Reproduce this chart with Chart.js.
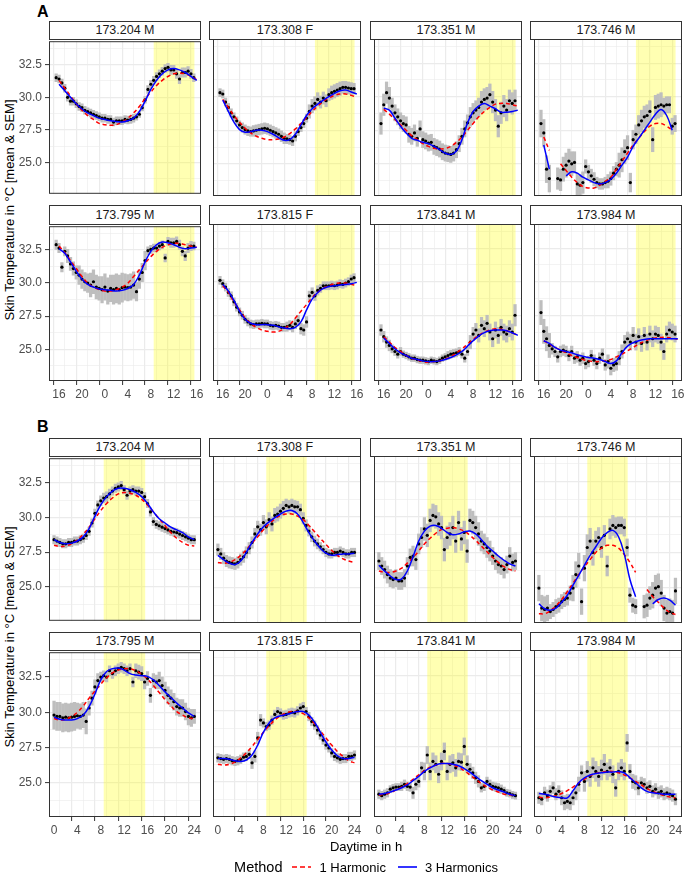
<!DOCTYPE html>
<html>
<head>
<meta charset="utf-8">
<script src="https://cdn.jsdelivr.net/npm/chart.js@4.4.0/dist/chart.umd.min.js"></script>
<style>
  body { margin: 0; background: #fff; font-family: "Liberation Sans", Arial, sans-serif; }
  #fig { position: relative; width: 685px; height: 880px; overflow: hidden; background: #fff; }
  #fig canvas { position: absolute; }
  .strip { position: absolute; box-sizing: border-box; border: 1px solid #333; background: #fff;
           font-size: 12.5px; text-align: center; color: #1a1a1a; }
  .tag { position: absolute; font-weight: bold; font-size: 16px; color: #000; }
  .ytitle { position: absolute; width: 340px; height: 16px; line-height: 16px; text-align: center;
            font-size: 13px; color: #000; transform: rotate(-90deg); }
  .xtitle { position: absolute; left: 0; width: 732px; text-align: center; font-size: 13px; color: #000; }
  .legend { position: absolute; top: 859px; left: 0; width: 732px; display: flex; justify-content: center;
            align-items: center; font-size: 13px; color: #000; }
  .legend .ttl { font-size: 14.5px; margin-right: 8px; }
  .legend svg { margin: 0 8px 0 2px; }
</style>
</head>
<body>
<div id="fig"></div>
<script>
// time grids: A runs 16h -> 16h next day, B runs 0 -> 24h
const hoursA = Array.from({length: 49}, (_, i) => 15.5 + i / 2);
const hoursB = Array.from({length: 49}, (_, i) => i / 2);
const fitHoursA = Array.from({length: 25}, (_, i) => 16 + i);
const fitHoursB = Array.from({length: 25}, (_, i) => i);
const LIGHT = [8.5, 15.6];

const animals = ['173.204 M', '173.308 F', '173.351 M', '173.746 M', '173.795 M', '173.815 F', '173.841 M', '173.984 M'];

// ---- A: means (15.5 .. 39.5 h)
const meanA_204 = [31.5,31.4,31.1,30.7,30.0,29.7,29.7,29.5, 29.3,29.2,29.0,28.9,28.8,28.7,28.6,28.5,
  28.4,28.4,28.3,28.3,28.1,28.2,28.2,28.2, 28.3,28.25,28.3,28.4,28.5,28.7,29.2,29.8,
  30.6,31.0,31.3,31.6,31.8,32.0,32.2,32.3, 32.1,32.1,31.8,31.4,31.9,31.9,32.0,31.8, 31.5];
const meanA_308 = [30.3,30.2,29.6,29.2,28.8,28.5,28.2,27.9, 27.7,27.55,27.45,27.4,27.45,27.5,27.55,27.6,
  27.65,27.6,27.5,27.4,27.3,27.2,27.05,26.9, 26.85,26.8,26.7,27.05,27.4,27.7,28.0,28.4,
  28.9,29.3,29.5,29.8,29.6,29.9,29.7,30.15, 30.3,30.4,30.5,30.6,30.7,30.7,30.65,30.6, 30.6];
const meanA_351 = [28.0,29.4,30.3,29.9,29.3,28.8,28.5,28.2, 28.0,27.9,27.2,27.05,27.3,26.9,27.6,26.8,
  26.7,26.55,26.6,26.3,26.2,26.1,25.9,25.8, 25.75,25.7,25.8,26.05,26.5,27.05,27.6,28.05,
  28.5,28.8,29.0,29.2,29.6,29.8,29.9,30.15, 29.6,29.0,27.8,28.8,29.3,29.0,29.7,29.5, 29.7];
const meanA_746 = [28.0,27.3,24.6,23.9,null,null,23.9,23.8, 24.6,24.9,25.2,25.0,25.1,23.5,23.4,23.6,
  24.8,24.4,24.1,23.85,23.6,23.5,23.5,23.6, 23.7,23.9,24.3,24.6,24.9,25.3,25.9,26.2,
  23.6,26.8,27.2,27.9,28.2,28.5,28.6,28.9, 26.8,29.2,29.3,29.4,29.3,29.4,29.4,27.8, 28.0];
const meanA_795 = [32.9,32.65,31.2,32.4,32.05,31.45,31.1,30.8, 30.6,30.3,30.1,30.0,29.85,30.1,29.7,29.6,
  29.5,29.7,29.4,29.6,29.5,29.6,29.5,29.65, 29.7,29.65,29.7,29.85,29.35,30.3,30.8,31.7,
  32.45,32.55,32.65,32.65,32.8,32.9,31.9,33.15, 33.05,33.05,33.15,32.9,32.4,32.05,32.65,32.8, 32.8];
const meanA_815 = [30.1,29.85,29.6,29.2,28.95,28.5,28.1,27.75, 27.5,27.2,27.0,26.85,26.8,26.85,26.85,26.9,
  26.85,26.85,26.75,26.7,26.75,26.7,26.6,26.6, 26.65,26.75,26.6,26.85,27.1,26.5,26.4,27.0,
  28.95,29.2,28.95,29.35,29.5,29.7,29.7,29.7, 29.75,29.7,29.75,29.85,29.8,29.9,30.0,30.2, 30.3];
const meanA_841 = [26.4,25.9,25.5,25.25,25.0,24.8,24.6,24.8, 24.6,24.5,24.4,24.3,24.3,24.2,24.15,24.15,
  24.1,24.05,24.15,24.1,24.05,24.15,24.3,24.4, 24.5,24.6,24.65,24.7,24.8,24.6,24.3,24.8,
  25.5,26.1,26.4,26.0,26.75,26.5,26.9,26.25, 25.75,26.4,26.0,26.6,26.25,26.1,26.5,26.25, 27.5];
const meanA_984 = [27.7,26.3,25.75,25.25,25.0,24.8,24.4,24.8, 24.9,24.8,24.5,24.8,24.3,24.4,24.15,24.3,
  23.9,24.05,24.5,24.15,23.9,24.3,24.6,23.8, 24.05,23.55,23.8,23.9,24.3,24.8,25.5,25.75,
  25.5,26.0,25.5,25.9,25.4,26.0,25.5,26.1, 25.75,26.1,26.0,25.5,24.8,26.1,26.4,26.25, 26.1];

// ---- B: means (0 .. 24 h)
const meanB_204 = [28.4,28.3,28.2,28.1,28.1,28.2,28.2,28.3, 28.3,28.4,28.5,28.7,29.0,29.6,30.3,30.9,
  31.2,31.4,31.5,31.7,31.9,32.1,32.2,32.3, 32.0,31.6,31.9,32.0,31.9,31.9,31.8,31.5,
  31.0,30.4,29.7,29.5,29.4,29.3,29.2,29.1, 29.0,28.95,28.9,28.8,28.7,28.6,28.5,28.4, 28.4];
const meanB_308 = [27.7,27.4,27.1,26.9,26.8,26.75,26.7,26.8, 27.0,27.2,27.5,27.8,28.2,28.8,29.3,29.1,
  29.6,29.3,29.8,29.5,30.1,30.2,30.4,30.6, 30.8,30.7,30.8,30.7,30.7,30.5,29.9,29.4,
  29.0,28.6,28.3,28.1,27.9,27.7,27.5,27.4, 27.4,27.5,27.5,27.6,27.5,27.4,27.4,27.5, 27.5];
const meanB_351 = [26.9,26.55,26.3,25.95,25.7,25.6,25.7,25.5, 25.5,25.7,26.55,27.15,27.25,27.0,28.1,28.55,
  29.15,28.7,29.75,30.1,30.0,29.5,29.25,27.7, 28.55,28.8,29.25,28.3,29.6,28.45,28.9,27.6,
  29.75,29.6,29.25,28.8,28.3,28.1,27.85,27.6, 27.25,26.9,26.65,26.55,26.3,26.65,27.25,26.8, 26.9];
const meanB_746 = [25.0,23.6,23.5,23.6,23.35,23.5,23.7,23.8, 24.05,24.2,24.3,24.65,25.0,25.95,26.55,24.05,
  26.4,27.85,28.3,27.5,28.3,28.55,27.85,28.7, 26.55,29.15,29.4,29.25,29.4,29.4,29.25,27.85,
  24.5,23.8,23.7,null,null,23.7,23.8,24.3, 24.5,25.0,25.1,24.65,23.6,23.25,23.35,23.25, 24.8];
const meanB_795 = [29.8,29.7,29.7,29.6,29.65,29.6,29.65,29.7, 29.75,29.7,29.8,29.35,30.3,31.0,31.8,32.25,
  32.5,32.6,32.5,32.95,32.75,32.95,33.1,33.2, 33.1,32.95,33.1,32.15,32.95,32.85,32.75,32.15,
  32.4,31.2,32.25,32.15,32.25,31.9,31.55,31.2, 31.0,30.75,30.4,30.3,30.3,30.05,29.7,29.6, 29.7];
const meanB_815 = [26.7,26.65,26.6,26.65,26.6,26.5,26.45,26.5, 26.6,26.75,26.8,26.95,26.35,26.8,28.1,29.35,
  29.15,28.9,29.0,29.35,29.75,29.95,29.85,29.7, 29.75,29.85,29.9,29.85,30.0,30.2,30.3,29.95,
  29.6,29.25,29.0,28.65,28.3,27.95,27.6,27.4, 27.05,26.8,26.7,26.6,26.65,26.65,26.8,26.8, 26.9];
const meanB_841 = [24.15,24.05,24.15,24.25,24.5,24.6,24.65,24.65, 24.7,24.85,24.7,24.65,24.25,24.85,25.05,26.0,
  25.75,26.9,25.75,26.45,26.25,25.55,26.45,27.15, 25.75,26.25,26.35,26.0,26.45,26.4,27.5,26.25,
  25.9,25.65,25.3,25.05,24.6,24.7,25.05,24.85, 24.7,24.65,24.6,24.5,24.4,24.25,24.2,24.1, 24.05];
const meanB_984 = [23.9,23.8,24.25,24.05,24.35,24.6,24.15,24.35, 23.9,23.55,23.65,23.55,23.9,24.25,24.85,25.65,
  25.05,25.75,25.4,26.0,25.75,25.4,25.85,26.25, 25.75,26.0,25.55,24.6,25.75,26.0,25.75,27.75,
  25.75,25.05,24.95,24.6,24.95,24.85,24.6,24.7, 24.35,24.5,24.25,24.35,24.15,24.25,24.15,24.05, 23.8];

// ---- SEM, one value per 2 h block of each panel
const semA_204 = [0.3,0.3,0.3,0.3,0.3,0.3,0.3,0.25,0.3,0.3,0.35,0.35,0.3];
const semA_308 = [0.3,0.3,0.35,0.4,0.4,0.4,0.35,0.3,0.5,0.45,0.5,0.45,0.4];
const semA_351 = [0.8,0.6,0.6,0.6,0.6,0.6,0.6,0.6,0.7,0.8,0.8,0.8,0.8];
const semA_746 = [1.0,0.8,0.9,0.8,0.5,0.4,0.5,0.9,0.7,0.8,0.9,0.6,0.6];
const semA_795 = [0.35,0.5,0.7,0.9,1.0,1.1,1.0,0.7,0.3,0.3,0.35,0.35,0.3];
const semA_815 = [0.3,0.3,0.3,0.3,0.3,0.3,0.35,0.4,0.35,0.3,0.3,0.3,0.3];
const semA_841 = [0.4,0.3,0.25,0.25,0.25,0.25,0.3,0.3,0.5,0.6,0.6,0.6,0.8];
const semA_984 = [0.9,0.4,0.4,0.4,0.4,0.4,0.5,0.5,0.6,0.6,0.6,0.6,0.6];
const semB_204 = [0.3,0.3,0.3,0.3,0.35,0.3,0.3,0.3,0.3,0.3,0.3,0.3,0.3];
const semB_308 = [0.4,0.4,0.4,0.4,0.5,0.5,0.45,0.4,0.35,0.3,0.3,0.3,0.3];
const semB_351 = [0.6,0.6,0.6,0.7,0.8,0.8,0.8,0.8,0.8,0.7,0.6,0.6,0.6];
const semB_746 = [0.9,0.5,0.5,0.9,0.9,0.7,0.7,0.6,0.5,0.8,0.9,0.9,0.9];
const semB_795 = [1.0,1.0,0.9,0.5,0.35,0.35,0.35,0.5,0.5,0.6,0.6,0.6,0.5];
const semB_815 = [0.3,0.3,0.3,0.4,0.3,0.3,0.3,0.3,0.3,0.3,0.3,0.3,0.3];
const semB_841 = [0.3,0.25,0.3,0.4,0.6,0.6,0.6,0.6,0.4,0.3,0.3,0.25,0.25];
const semB_984 = [0.4,0.4,0.5,0.5,0.7,0.7,0.6,0.6,0.5,0.4,0.4,0.4,0.4];

// ---- fits, hourly (A: 16..40, B: 0..24)
const blueA_204 = [31.0,30.5,30.0,29.5,29.1,28.8,28.6,28.4,28.3,28.2,28.15,28.1,28.2,28.4,28.9,29.7,30.6,31.3,31.8,32.1,32.2,32.1,31.9,31.6,31.3];
const redA_204  = [31.3,30.7,30.1,29.5,29.0,28.6,28.3,28.0,27.9,27.85,27.9,28.1,28.4,28.8,29.3,29.9,30.4,30.9,31.3,31.6,31.8,31.85,31.8,31.6,31.35];
const blueA_308 = [29.75,28.9,28.1,27.55,27.35,27.4,27.5,27.5,27.4,27.2,26.95,26.75,26.8,27.2,27.9,28.6,29.1,29.45,29.75,30.0,30.25,30.45,30.5,30.35,30.2];
const redA_308  = [29.8,29.2,28.6,28.1,27.65,27.3,27.05,26.9,26.8,26.8,26.85,27.0,27.25,27.6,28.0,28.45,28.9,29.3,29.65,29.9,30.1,30.2,30.2,30.1,29.95];
const blueA_351 = [29.15,29.0,28.4,27.8,27.3,26.9,26.75,26.6,26.5,26.3,26.05,25.8,25.7,25.95,26.8,28.05,28.9,29.3,29.5,29.3,29.1,28.85,28.85,28.9,29.0];
const redA_351  = [29.05,28.7,28.3,27.9,27.5,27.1,26.8,26.5,26.3,26.15,26.1,26.15,26.3,26.6,27.0,27.5,28.0,28.5,28.9,29.2,29.45,29.5,29.5,29.4,29.3];
const blueA_746 = [26.4,24.6,null,null,24.1,24.4,24.3,24.0,23.8,23.6,23.5,23.6,23.85,24.3,24.9,25.5,26.3,26.9,27.5,28.1,28.7,29.05,28.6,27.5,null];
const redA_746  = [27.0,26.0,null,25.0,24.5,24.0,23.6,23.3,23.2,23.2,23.4,23.7,24.0,24.6,25.2,25.8,26.4,26.9,27.4,27.8,28.0,28.0,27.8,27.5,null];
const blueA_795 = [32.6,32.25,31.6,30.9,30.3,29.9,29.7,29.55,29.5,29.45,29.4,29.45,29.6,29.9,30.6,31.6,32.4,32.9,33.1,33.05,32.9,32.7,32.6,32.65,32.7];
const redA_795  = [32.8,32.3,31.7,31.1,30.5,30.0,29.7,29.5,29.4,29.4,29.5,29.7,30.0,30.5,31.0,31.5,32.0,32.4,32.7,32.9,33.0,33.0,32.9,32.8,32.7];
const blueA_815 = [29.8,29.3,28.6,27.8,27.2,26.9,26.8,26.8,26.8,26.75,26.65,26.55,26.5,26.6,27.0,27.9,28.7,29.2,29.5,29.65,29.7,29.75,29.8,29.85,29.95];
const redA_815  = [29.7,29.2,28.5,27.9,27.3,26.9,26.6,26.4,26.3,26.25,26.3,26.5,26.8,27.3,27.8,28.3,28.8,29.2,29.5,29.7,29.85,29.9,29.9,29.8,29.7];
const blueA_841 = [25.8,25.4,25.0,24.7,24.5,24.3,24.2,24.1,24.05,24.05,24.1,24.2,24.35,24.55,24.8,25.2,25.6,25.95,26.2,26.35,26.4,26.4,26.35,26.2,26.0];
const redA_841  = [25.9,25.5,25.1,24.8,24.5,24.3,24.15,24.05,24.0,24.05,24.1,24.25,24.4,24.7,25.0,25.35,25.7,26.0,26.25,26.4,26.5,26.45,26.35,26.2,26.0];
const blueA_984 = [25.6,25.4,25.1,24.9,24.8,24.7,24.55,24.45,24.35,24.3,24.2,24.05,23.9,24.1,24.7,25.2,25.45,25.6,25.7,25.75,25.75,25.75,25.75,25.75,25.75];
const redA_984  = [25.6,25.35,25.1,24.9,24.7,24.5,24.35,24.2,24.1,24.05,24.05,24.1,24.2,24.4,24.6,24.85,25.1,25.35,25.55,25.7,25.8,25.85,25.85,25.8,25.7];

const blueB_204 = [28.4,28.2,28.1,28.15,28.3,28.6,29.2,30.1,30.9,31.5,31.9,32.1,32.1,32.0,31.8,31.5,31.0,30.4,29.9,29.6,29.3,29.1,28.9,28.6,28.4];
const redB_204  = [28.0,27.9,27.95,28.1,28.4,28.8,29.3,29.9,30.5,31.0,31.4,31.7,31.8,31.75,31.6,31.3,30.9,30.4,29.9,29.4,28.9,28.5,28.2,28.0,27.95];
const blueB_308 = [27.3,27.0,26.75,26.65,26.9,27.5,28.2,28.8,29.3,29.65,29.95,30.2,30.4,30.45,30.2,29.6,28.9,28.3,27.8,27.45,27.3,27.35,27.4,27.4,27.45];
const redB_308  = [26.8,26.75,26.8,27.0,27.3,27.7,28.15,28.6,29.1,29.5,29.85,30.1,30.2,30.2,30.05,29.8,29.4,28.95,28.5,28.05,27.65,27.3,27.05,26.9,26.8];
const blueB_351 = [26.6,26.2,25.85,25.6,25.65,26.2,27.2,28.3,29.0,29.35,29.4,29.2,28.9,28.75,28.8,28.95,29.0,28.8,28.4,27.95,27.6,27.25,26.95,26.7,26.55];
const redB_351  = [26.2,26.1,26.1,26.2,26.4,26.75,27.15,27.6,28.1,28.5,28.85,29.1,29.2,29.25,29.15,29.0,28.7,28.35,27.95,27.55,27.15,26.8,26.5,26.3,26.2];
const blueB_746 = [23.9,23.55,23.45,23.6,24.0,24.5,25.2,25.9,26.6,27.3,27.9,28.5,28.9,29.05,28.6,27.4,25.6,24.4,null,null,23.9,24.2,24.3,24.15,23.8];
const redB_746  = [23.2,23.2,23.4,23.75,24.2,24.75,25.35,25.95,26.5,27.0,27.5,27.8,28.0,28.0,27.8,27.35,26.8,26.1,null,24.9,24.4,24.0,23.6,23.3,23.15];
const blueB_795 = [29.65,29.5,29.45,29.45,29.55,29.8,30.4,31.3,32.3,32.9,33.1,33.15,33.0,32.75,32.65,32.6,32.55,32.3,31.9,31.45,31.05,30.65,30.3,29.95,29.7];
const redB_795  = [29.55,29.45,29.5,29.7,30.0,30.45,31.0,31.5,32.0,32.45,32.8,33.0,33.1,33.1,32.95,32.7,32.35,31.9,31.4,30.9,30.45,30.05,29.8,29.6,29.55];
const blueB_815 = [26.65,26.65,26.6,26.5,26.45,26.55,26.9,27.6,28.5,29.15,29.5,29.65,29.75,29.85,29.95,29.95,29.7,29.2,28.5,27.8,27.25,26.85,26.65,26.65,26.75];
const redB_815  = [26.25,26.2,26.25,26.4,26.7,27.05,27.5,28.0,28.5,28.95,29.35,29.65,29.85,29.95,29.95,29.8,29.5,29.1,28.6,28.1,27.6,27.15,26.8,26.5,26.35];
const blueB_841 = [24.15,24.2,24.3,24.45,24.6,24.8,25.1,25.4,25.75,26.0,26.2,26.3,26.3,26.25,26.15,25.95,25.7,25.4,25.1,24.85,24.6,24.45,24.3,24.15,24.05];
const redB_841  = [24.1,24.15,24.25,24.45,24.65,24.9,25.2,25.5,25.8,26.05,26.2,26.3,26.3,26.2,26.05,25.8,25.5,25.2,24.9,24.65,24.45,24.3,24.15,24.1,24.1];
const blueB_984 = [24.2,24.15,24.05,23.95,23.9,23.9,24.4,24.95,25.3,25.5,25.6,25.65,25.7,25.7,25.75,25.65,25.3,24.95,24.6,24.35,24.25,24.2,24.15,24.15,24.15];
const redB_984  = [23.95,23.9,23.95,24.05,24.2,24.4,24.65,24.95,25.2,25.45,25.6,25.7,25.75,25.75,25.65,25.5,25.3,25.05,24.8,24.55,24.35,24.2,24.05,23.95,23.9];

const sections = [
  {
    tag: 'A', tagTop: 3,
    hours: hoursA, fitHours: fitHoursA, shift: 24,
    means: [meanA_204, meanA_308, meanA_351, meanA_746, meanA_795, meanA_815, meanA_841, meanA_984],
    sems: [semA_204, semA_308, semA_351, semA_746, semA_795, semA_815, semA_841, semA_984],
    blues: [blueA_204, blueA_308, blueA_351, blueA_746, blueA_795, blueA_815, blueA_841, blueA_984],
    reds: [redA_204, redA_308, redA_351, redA_746, redA_795, redA_815, redA_841, redA_984],
    xMin: 14.25, xMax: 40.75, yMin: 22.6, yMax: 34.3,
    xLabel: v => String(v % 24),
    rows: [{strip: 21, top: 39, h: 157}, {strip: 205, top: 224, h: 157}]
  },
  {
    tag: 'B', tagTop: 418,
    hours: hoursB, fitHours: fitHoursB, shift: 0,
    means: [meanB_204, meanB_308, meanB_351, meanB_746, meanB_795, meanB_815, meanB_841, meanB_984],
    sems: [semB_204, semB_308, semB_351, semB_746, semB_795, semB_815, semB_841, semB_984],
    blues: [blueB_204, blueB_308, blueB_351, blueB_746, blueB_795, blueB_815, blueB_841, blueB_984],
    reds: [redB_204, redB_308, redB_351, redB_746, redB_795, redB_815, redB_841, redB_984],
    xMin: -0.86, xMax: 25.15, yMin: 22.55, yMax: 34.27,
    xLabel: v => String(v),
    rows: [{strip: 438, top: 456, h: 167}, {strip: 632, top: 650, h: 167}]
  }
];

const COLS = [49, 209, 370, 530];
const PW = 152;
const PAD = 8;
const fig = document.getElementById('fig');

function addDiv(cls, css, html) {
  const d = document.createElement('div');
  d.className = cls;
  Object.assign(d.style, css);
  d.innerHTML = html;
  fig.appendChild(d);
  return d;
}

const isMajorY = v => Math.abs(v / 2.5 - Math.round(v / 2.5)) < 1e-6;
const isMajorX = v => Math.abs(v / 4 - Math.round(v / 4)) < 1e-6;
const tickVal = c => (c && c.tick) ? c.tick.value : NaN;

// yellow light phase + panel frame
const panelDeco = {
  id: 'panelDeco',
  beforeDatasetsDraw(chart, args, opts) {
    const {ctx, chartArea: a, scales: {x}} = chart;
    const x0 = x.getPixelForValue(opts.light[0]);
    const x1 = x.getPixelForValue(opts.light[1]);
    ctx.save();
    ctx.fillStyle = 'rgba(255,255,0,0.3)';
    ctx.fillRect(x0, a.top, x1 - x0, a.bottom - a.top);
    ctx.restore();
  },
  afterDraw(chart) {
    const {ctx, chartArea: a} = chart;
    ctx.save();
    ctx.strokeStyle = '#333333';
    ctx.lineWidth = 1;
    ctx.strokeRect(a.left + 0.5, a.top + 0.5, a.right - a.left - 1, a.bottom - a.top - 1);
    ctx.restore();
  }
};

function makePanel(sec, k) {
  const row = sec.rows[Math.floor(k / 4)];
  const col = k % 4;
  const showY = col === 0;
  const showX = k >= 4;
  const padL = showY ? 46 : 0;
  const padB = showX ? 24 : 0;

  addDiv('strip', {left: COLS[col] + 'px', top: row.strip + 'px', width: PW + 'px',
    height: (row.top - row.strip + 1) + 'px', lineHeight: (row.top - row.strip - 1) + 'px'}, animals[k]);

  const cv = document.createElement('canvas');
  cv.width = padL + PW + 10;
  cv.height = PAD + row.h + padB + PAD;
  cv.style.left = (COLS[col] - padL) + 'px';
  cv.style.top = (row.top - PAD) + 'px';
  fig.appendChild(cv);

  const mean = sec.means[k], sem = sec.sems[k];
  const pts = [], bars = [];
  sec.hours.forEach((h, i) => {
    if (mean[i] == null) return;
    const s = sem[Math.floor(i / 4)];
    pts.push({x: h, y: mean[i]});
    bars.push({x: h, y: [mean[i] - s, mean[i] + s]});
  });
  const blue = sec.fitHours.map((h, i) => ({x: h, y: sec.blues[k][i]}));
  const red = sec.fitHours.map((h, i) => ({x: h, y: sec.reds[k][i]}));

  new Chart(cv, {
    type: 'line',
    data: {
      datasets: [
        {label: '3 Harmonics', data: blue, borderColor: '#0000FF', borderWidth: 1.5,
         pointRadius: 0, tension: 0.4, order: 0},
        {label: '1 Harmonic', data: red, borderColor: '#FF0000', borderWidth: 1.5, borderDash: [4, 3],
         pointRadius: 0, tension: 0.4, order: 1},
        {label: 'mean', data: pts, showLine: false, pointRadius: 1.6, pointBackgroundColor: '#000',
         pointBorderWidth: 0, order: 2},
        {type: 'bar', label: 'SEM', data: bars, backgroundColor: '#BEBEBE', barThickness: 2.6,
         borderWidth: 0, order: 3}
      ]
    },
    options: {
      responsive: false,
      animation: false,
      devicePixelRatio: 1,
      events: [],
      layout: {padding: {top: PAD, right: 10, left: 0, bottom: PAD}},
      plugins: {legend: {display: false}, tooltip: {enabled: false},
                panelDeco: {light: [LIGHT[0] + sec.shift, LIGHT[1] + sec.shift]}},
      scales: {
        x: {
          type: 'linear', min: sec.xMin, max: sec.xMax, offset: false,
          afterFit: s => { s.height = padB; },
          border: {display: false},
          grid: {color: '#EBEBEB', lineWidth: c => isMajorX(tickVal(c)) ? 1.2 : 0.6,
                 drawTicks: showX, tickLength: 4, tickWidth: 1,
                 tickColor: c => isMajorX(tickVal(c)) ? '#333333' : 'rgba(0,0,0,0)'},
          ticks: {display: showX, stepSize: 2, autoSkip: false, maxRotation: 0, includeBounds: false,
                  padding: 2, color: '#4D4D4D', font: {size: 12},
                  callback: v => isMajorX(v) ? sec.xLabel(v) : ''}
        },
        y: {
          type: 'linear', min: sec.yMin, max: sec.yMax,
          afterFit: s => { s.width = padL; },
          border: {display: false},
          grid: {color: '#EBEBEB', lineWidth: c => isMajorY(tickVal(c)) ? 1.2 : 0.6,
                 drawTicks: showY, tickLength: 4, tickWidth: 1,
                 tickColor: c => isMajorY(tickVal(c)) ? '#333333' : 'rgba(0,0,0,0)'},
          ticks: {display: showY, stepSize: 1.25, autoSkip: false, includeBounds: false,
                  padding: 3, color: '#4D4D4D', font: {size: 12},
                  callback: v => isMajorY(v) ? v.toFixed(1) : ''}
        }
      }
    },
    plugins: [panelDeco]
  });
}

Chart.defaults.font.family = '"Liberation Sans", Arial, sans-serif';

sections.forEach(sec => {
  addDiv('tag', {left: '37px', top: sec.tagTop + 'px'}, sec.tag);
  const r0 = sec.rows[0], r1 = sec.rows[1];
  const cy = (r0.top + r1.top + r1.h) / 2;
  addDiv('ytitle', {left: (10 - 170) + 'px', top: (cy - 8) + 'px'}, 'Skin Temperature in °C [mean &amp; SEM]');
  for (let k = 0; k < 8; k++) makePanel(sec, k);
});

addDiv('xtitle', {top: '839px'}, 'Daytime in h');
addDiv('legend', {},
  '<span class="ttl">Method</span>' +
  '<svg width="19" height="10"><line x1="0" y1="5" x2="19" y2="5" stroke="#FF0000" stroke-width="1.6" stroke-dasharray="5,3"/></svg>' +
  '<span style="margin-right:10px">1 Harmonic</span>' +
  '<svg width="19" height="10"><line x1="0" y1="5" x2="19" y2="5" stroke="#0000FF" stroke-width="1.6"/></svg>' +
  '<span>3 Harmonics</span>');
</script>
</body>
</html>
